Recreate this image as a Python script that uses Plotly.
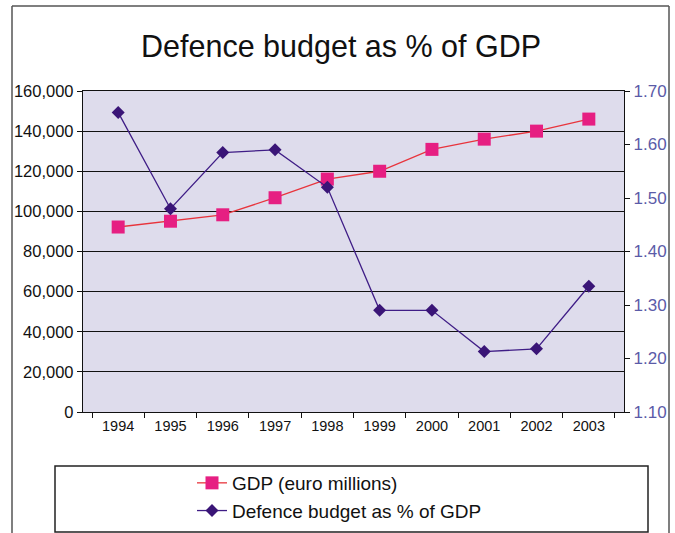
import plotly.graph_objects as go

# Annual data, 1994-2003
years = ["1994", "1995", "1996", "1997", "1998", "1999", "2000", "2001", "2002", "2003"]
gdp_eur_millions = [92200, 95100, 98300, 106800, 116100, 120000, 130900, 136000, 140000, 146000]
defence_pct_gdp = [1.66, 1.48, 1.585, 1.59, 1.52, 1.29, 1.29, 1.213, 1.218, 1.335]

gdp_ticks = list(range(0, 160001, 20000))
pct_ticks = [1.10, 1.20, 1.30, 1.40, 1.50, 1.60, 1.70]

FONT = "Liberation Sans, Arial, Helvetica, sans-serif"

# plot area geometry in pixels (used to place frame and legend box in paper units)
W, H = 675, 533
L, R, T, B = 83, 51, 91, 121
pw, ph = W - L - R, H - T - B


def px_x(x):
    return (x - L) / pw


def px_y(y):
    return (H - B - y) / ph


fig = go.Figure()

fig.add_trace(go.Scatter(
    x=years, y=gdp_eur_millions, name="GDP (euro millions)",
    mode="lines+markers",
    line=dict(color="#e8343c", width=1.3),
    marker=dict(symbol="square", size=13, color="#e61f82"),
    yaxis="y",
))

fig.add_trace(go.Scatter(
    x=years, y=defence_pct_gdp, name="Defence budget as % of GDP",
    mode="lines+markers",
    line=dict(color="#3f1d86", width=1.3),
    marker=dict(symbol="diamond", size=10, color="#3a1577"),
    yaxis="y2",
))

# outer chart frame (left, top, right edges)
fx0, fx1 = px_x(12), px_x(669)
fy0, fy1 = px_y(560), px_y(6)
frame = [
    dict(x0=fx0, x1=fx0, y0=fy0, y1=fy1),
    dict(x0=fx0, x1=fx1, y0=fy1, y1=fy1),
    dict(x0=fx1, x1=fx1, y0=fy0, y1=fy1),
]
shapes = [dict(type="line", xref="paper", yref="paper", layer="above",
               line=dict(color="#555555", width=1.5), **f) for f in frame]

# legend box
shapes.append(dict(type="rect", xref="paper", yref="paper",
                   x0=px_x(55), x1=px_x(648), y0=px_y(532), y1=px_y(466),
                   line=dict(color="#222222", width=1.5), fillcolor="rgba(0,0,0,0)"))

fig.update_layout(
    width=W, height=H,
    margin=dict(l=L, r=R, t=T, b=B, pad=0, autoexpand=False),
    paper_bgcolor="white",
    plot_bgcolor="#dedcec",
    font=dict(family=FONT, color="#111111"),
    showlegend=True,
    legend=dict(
        x=px_x(192), y=px_y(464), xanchor="left", yanchor="top",
        font=dict(size=19, family=FONT, color="#111111"),
        bgcolor="rgba(0,0,0,0)", borderwidth=0,
        tracegroupgap=0, itemwidth=30,
    ),
    shapes=shapes,
    annotations=[dict(
        text="Defence budget as % of GDP", xref="paper", yref="paper",
        x=px_x(341), y=px_y(47), xanchor="center", yanchor="middle",
        showarrow=False, font=dict(size=30.5, family=FONT, color="#111111"),
    )],
    xaxis=dict(
        type="category", tickson="boundaries", ticks="outside", ticklen=5,
        tickcolor="#111111", tickwidth=1.3,
        showgrid=False, showline=True, linecolor="#111111", linewidth=1.3,
        mirror=True, tickfont=dict(size=14.5, family=FONT, color="#111111"),
        zeroline=False, automargin=False,
    ),
    yaxis=dict(
        range=[0, 160000], tickvals=gdp_ticks, tickformat=",",
        ticks="outside", ticklen=5, tickcolor="#111111", tickwidth=1.3,
        showgrid=True, gridcolor="#111111", gridwidth=1.4,
        showline=True, linecolor="#111111", linewidth=1.3,
        zeroline=False, tickfont=dict(size=16.5, family=FONT, color="#111111"),
        ticklabelstandoff=0, automargin=False,
    ),
    yaxis2=dict(
        range=[1.10, 1.70], tickvals=pct_ticks, tickformat=".2f",
        overlaying="y", side="right",
        ticks="outside", ticklen=5, tickcolor="#111111", tickwidth=1.3,
        showgrid=False, showline=True, linecolor="#111111", linewidth=1.3,
        zeroline=False, tickfont=dict(size=17, family=FONT, color="#5b5ba8"),
        automargin=False,
    ),
)

fig.write_html("out.html")
